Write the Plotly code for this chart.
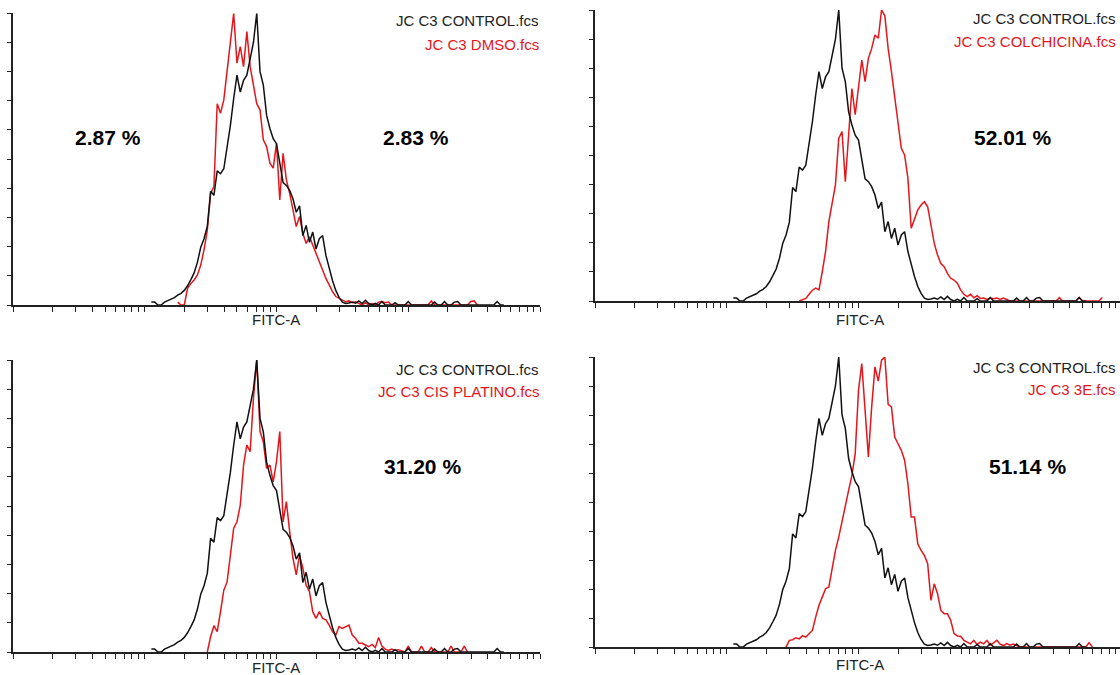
import plotly.graph_objects as go

# ---------------- data (normalised histogram counts, % of mode) ----------------
BIN0_LOG = 2.05      # log10(FITC-A) of channel 0
BIN_LOG = 0.025      # channel width in decades

CONTROL_NAME = "JC C3 CONTROL.fcs"
CONTROL_START = 0
CONTROL = [
    1, 1, 0, 0, 1, 1.5, 2, 2.5, 3.4, 4,
    5, 6.6, 8.7, 11, 14.7, 19.8, 22.7, 27, 39, 37.6,
    46, 45, 46.7, 53.6, 61.6, 70.8, 78.8, 73, 77, 78.8,
    84.5, 90, 100, 80, 75.4, 65, 60.5, 57, 55.3, 49,
    42, 41, 39.3, 36.4, 31.8, 34, 23.8, 27.3, 21.5, 25,
    19.2, 22.7, 23.8, 17, 12.4, 8.4, 5, 2.6, 1, 0.5,
    0.7, 1, 0.6, 1.4, 0.5, 1.6, 0.5, 0, 0.6, 0,
    1.2, 0, 0, 0, 0.8, 0, 0, 0, 1.2, 0,
    0, 0, 0, 0, 0, 0, 1, 0, 0, 1.2,
    0, 0, 1, 1.2, 0, 0, 0, 0, 0, 0,
    0, 0, 0, 0, 0, 1.2, 0, 0,
]

DMSO_NAME = "JC C3 DMSO.fcs"
DMSO_START = 8
DMSO = [
    1, 0, 0, 5.7, 7.4, 8.6, 10.3, 13.7, 18.9, 25.7,
    38.3, 40.6, 69, 65.7, 70.3, 80.6, 90.9, 100, 82.9, 88.6,
    81.7, 93.7, 81.7, 76, 69, 66.9, 56.6, 54.3, 48.6, 46.9,
    55.4, 36, 52, 42.9, 38.3, 32.6, 26.9, 30.3, 24.6, 21.1,
    23.4, 20.6, 17.7, 14.9, 12, 9.1, 6.9, 4.6, 2.9, 2.3,
    1.7, 1.1, 1.4, 0.8, 1.1, 0.5, 0, 0.8, 0, 0.5,
    0, 1, 1.2, 0.8, 1, 0, 0, 0, 0, 0,
    0, 0, 0, 0, 0, 0, 0, 1.4, 0, 0,
    0, 0, 0, 0, 0, 0, 0, 0, 0, 1.2,
    1.4, 0,
]

COLCH_NAME = "JC C3 COLCHICINA.fcs"
COLCH_START = 20
COLCH = [
    0, 0.5, 0.9, 2.3, 3.7, 4.4, 3.8, 10, 17, 27.3,
    33, 39.9, 55.9, 58.2, 41, 55.9, 73, 64, 73, 82.8,
    75.4, 83.4, 86.8, 91.4, 90.3, 100, 98, 86.8, 78.8, 69.6,
    61.6, 52.5, 50.2, 42.2, 25, 28.4, 31.3, 33, 34.1, 32.4,
    26.1, 19.8, 15.8, 12.9, 11.8, 9.5, 7.8, 7.2, 6.1, 3.8,
    2.3, 1.5, 2.3, 1.1, 1.8, 0.9, 1, 0.5, 1, 0.8,
    1, 0.5, 1, 0.6, 0, 0, 0, 0, 0, 0,
    0, 0, 0, 0, 0, 0, 0, 0, 0, 1.2,
    0, 0, 0, 0, 0, 1.2, 0, 0, 0, 0,
    0, 0, 1.2,
]

CISPL_NAME = "JC C3 CIS PLATINO.fcs"
CISPL_START = 17
CISPL = [
    0, 5.3, 9, 7, 13.8, 21.2, 24, 33.2, 42.4, 44.6,
    50.3, 64, 70.9, 68.6, 86.9, 100, 75.5, 72, 62.9, 64,
    58.3, 65.2, 75.5, 44.6, 51.5, 41.2, 32.1, 26.4, 33.2, 28.7,
    22.9, 20.7, 13.8, 11.5, 13.8, 11.5, 11, 9.2, 7, 5.8,
    8.7, 8.1, 8.7, 9.2, 5.8, 4.7, 3, 3, 2.4, 1.8,
    2.6, 1.5, 5, 2, 1, 0.5, 1, 0.5, 0.8, 0.5,
    0, 2, 0, 0, 0, 2, 0, 0, 1.5, 0,
    0, 0, 0, 0, 2, 0, 0, 0, 2, 0,
]

E3_NAME = "JC C3 3E.fcs"
E3_START = 16
E3 = [
    0, 2.3, 2.5, 3.2, 2.8, 3.9, 3.4, 4.6, 5.7, 10.3,
    14.4, 17.2, 20.1, 20.7, 27.6, 33.3, 37.9, 43.7, 48.3, 54,
    59.2, 66.7, 88.5, 97.7, 81.6, 65.5, 82.8, 96.6, 91.7, 98.9,
    100, 83.7, 82.8, 72.4, 70.1, 67.8, 64.4, 56.3, 44.8, 44.8,
    35.6, 33.3, 31.6, 28.7, 16.1, 21.8, 18.4, 12.6, 11.5, 11.5,
    9.2, 4.6, 3.8, 3.7, 2.3, 1.7, 1.1, 2.3, 0.9, 1.7,
    1.1, 2.3, 0.6, 1.4, 2.3, 1, 0.5, 1.2, 0.6, 1,
    0.5, 0, 0, 0, 0, 0, 0, 0, 0, 0,
    0, 0, 0, 0, 0, 0, 0, 0, 0, 0,
    0, 0, 1.5, 0,
]

PERCENT_LABELS = [["2.87 %", "2.83 %"], ["52.01 %"], ["31.20 %"], ["51.14 %"]]

TREATMENTS = [
    (DMSO_NAME, DMSO_START, DMSO),
    (COLCH_NAME, COLCH_START, COLCH),
    (CISPL_NAME, CISPL_START, CISPL),
    (E3_NAME, E3_START, E3),
]

# ---------------- layout geometry (pixels) ----------------
W, H = 1120, 675
DECADE_PX = 131.75
RED = "rgb(228,22,28)"
BLACK = "#111111"

PANELS = [
    dict(x0=13, x1=540, top=13.3, bottom=305, leg_r=541, leg_y=(21, 44),
         pct=[(108, 137), (416, 137)], fitc=(276, 319)),
    dict(x0=595, x1=1120, top=10, bottom=301, leg_r=1118, leg_y=(19, 42),
         pct=[(1012, 137)], fitc=(860, 319)),
    dict(x0=13, x1=540, top=360, bottom=652, leg_r=541, leg_y=(369, 391),
         pct=[(422, 466)], fitc=(276, 667)),
    dict(x0=595, x1=1120, top=357, bottom=647, leg_r=1118, leg_y=(367, 390),
         pct=[(1027, 466)], fitc=(860, 664)),
]


def fx(p):
    return p / W


def fy(p):
    return 1 - p / H


def channel_x(start, n):
    return [10 ** (BIN0_LOG + BIN_LOG * (start + i)) for i in range(n)]


tickvals = [m * 10 ** k for k in range(1, 5) for m in range(1, 10)] + [1e5]

fig = go.Figure()
annotations = []
layout = {}

for k, (panel, (tname, tstart, tvals), labels) in enumerate(zip(PANELS, TREATMENTS, PERCENT_LABELS)):
    sfx = "" if k == 0 else str(k + 1)
    xa, ya = "x" + sfx, "y" + sfx

    fig.add_trace(go.Scatter(
        x=channel_x(tstart, len(tvals)), y=tvals, mode="lines",
        line=dict(color=RED, width=1.5, shape="linear"),
        xaxis=xa, yaxis=ya, showlegend=False, hoverinfo="skip"))
    fig.add_trace(go.Scatter(
        x=channel_x(CONTROL_START, len(CONTROL)), y=CONTROL, mode="lines",
        line=dict(color=BLACK, width=1.5, shape="linear"),
        xaxis=xa, yaxis=ya, showlegend=False, hoverinfo="skip"))

    xr = [1, 1 + (panel["x1"] - panel["x0"]) / DECADE_PX]
    layout["xaxis" + sfx] = dict(
        domain=[fx(panel["x0"]), min(1.0, fx(panel["x1"]))],
        anchor=ya, type="log", range=xr,
        tickmode="array", tickvals=tickvals, showticklabels=False,
        ticks="outside", ticklen=5, tickwidth=1.3, tickcolor="#222",
        showline=True, linecolor="#222", linewidth=1.6,
        showgrid=False, zeroline=False, fixedrange=True)
    layout["yaxis" + sfx] = dict(
        domain=[fy(panel["bottom"]), fy(panel["top"])],
        anchor=xa, range=[0, 100],
        tickmode="array", tickvals=list(range(0, 101, 10)), showticklabels=False,
        ticks="outside", ticklen=4, tickwidth=1.3, tickcolor="#222",
        showline=True, linecolor="#222", linewidth=1.6,
        showgrid=False, zeroline=False, fixedrange=True)

    for txt, yy, col in [(CONTROL_NAME, panel["leg_y"][0], "#222222"),
                         (tname, panel["leg_y"][1], RED)]:
        annotations.append(dict(
            text=txt, x=fx(panel["leg_r"]), y=fy(yy), xref="paper", yref="paper",
            xanchor="right", yanchor="middle", showarrow=False,
            font=dict(family="Liberation Sans, Arial, sans-serif", size=15, color=col)))

    for lab, (lx, ly) in zip(labels, panel["pct"]):
        annotations.append(dict(
            text="<b>" + lab + "</b>", x=fx(lx), y=fy(ly), xref="paper", yref="paper",
            xanchor="center", yanchor="middle", showarrow=False,
            font=dict(family="Liberation Sans, Arial, sans-serif", size=21, color="#000000")))

    annotations.append(dict(
        text="FITC-A", x=fx(panel["fitc"][0]), y=fy(panel["fitc"][1]),
        xref="paper", yref="paper", xanchor="center", yanchor="middle",
        showarrow=False,
        font=dict(family="Liberation Sans, Arial, sans-serif", size=15, color="#222222")))

fig.update_layout(
    width=W, height=H, margin=dict(l=0, r=0, t=0, b=0),
    paper_bgcolor="white", plot_bgcolor="white",
    annotations=annotations, showlegend=False, **layout)

fig.write_html("out.html", config={"displayModeBar": False},
               post_script="document.body.style.margin='0';document.body.style.overflow='hidden';")
